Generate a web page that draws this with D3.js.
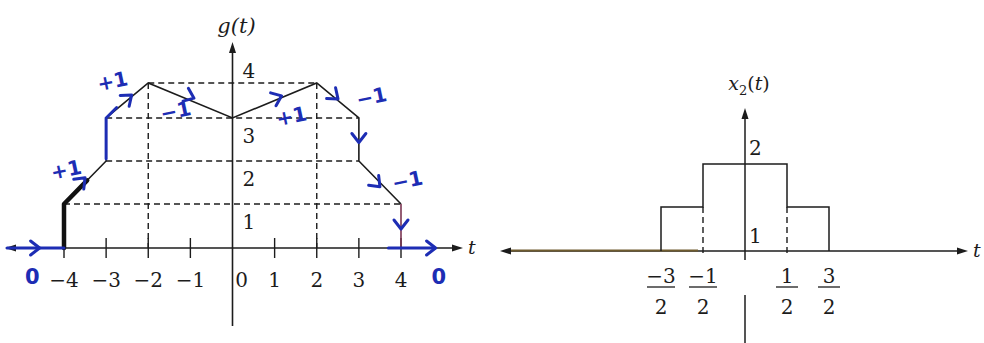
<!DOCTYPE html>
<html><head><meta charset="utf-8">
<script src="https://cdn.jsdelivr.net/npm/d3@7"></script>
<style>html,body{margin:0;padding:0;background:#fff;}svg{display:block;}</style>
</head><body>
<svg id="chart" width="984" height="343"></svg>
<script>
// ---- g(t): breakpoints of the piecewise-linear signal ----
const gT = [-4, -4, -3, -3, -2, 0, 2, 3, 3, 4, 4];
const gV = [0, 1, 2, 3, 4, 3, 4, 3, 2, 1, 0];
const gTicks = [-4, -3, -2, -1, 0, 1, 2, 3, 4];
const gTickLabels = ["\u22124", "\u22123", "\u22122", "\u22121", "0", "1", "2", "3", "4"];
const gLevels = [1, 2, 3, 4];
// dashed guides
const guideHFrom = [-4, -3, -3, -2];
const guideHTo = [4, 3, 3, 2];
const guideHLevel = [1, 2, 3, 4];
const guideVT = [-2, 2];
const guideVTop = [4, 4];

// pen notes on g(t): slope labels, direction chevrons, zero labels
const noteText = ["+1", "+1", "\u22121", "+1", "\u22121", "\u22121"];
const noteT = [-3.95, -2.85, -1.35, 1.4, 3.3, 4.15];
const noteG = [1.8, 4.05, 3.2, 3.05, 3.6, 1.55];
const arrowT = [-3.55, -2.45, -0.98, 1.1, 2.45, 3.45, 3, 4, -4.65, 4.75];
const arrowG = [1.56, 3.6, 3.6, 3.6, 3.6, 1.45, 2.5, 0.5, 0, 0];
const arrowSlope = [1, 1, -0.5, 0.5, -1, -1, null, null, 0, 0];
const zeroT = [-4.75, 4.9];
const zeroLabel = ["0", "0"];
const penAxisFrom = [-5.35, 3.7];
const penAxisTo = [-4, 4.8];

// ---- x2(t): staircase pulse ----
const x2T = [-1.5, -1.5, -0.5, -0.5, 0.5, 0.5, 1.5, 1.5];
const x2V = [0, 1, 1, 2, 2, 1, 1, 0];
const x2Ticks = [-1.5, -0.5, 0.5, 1.5];
const x2TickNum = ["\u22123", "\u22121", "1", "3"];
const x2TickDen = ["2", "2", "2", "2"];
const x2Dashed = [-0.5, 0.5];

const svg = d3.select("#chart");
svg.append("rect").attr("width", 984).attr("height", 343).attr("fill", "#fff");

const ink = "#1c1c1c";
const pen = "#1d2db4";
const serif = "'DejaVu Serif', 'Liberation Serif', serif";

function arrowHead(g, x, y, angleDeg, color) {
  g.append("path")
    .attr("d", "M0,0 L-11,-3.5 L-11,3.5 Z")
    .attr("fill", color)
    .attr("transform", `translate(${x},${y}) rotate(${angleDeg})`);
}

// ================= left chart =================
const xG = d3.scaleLinear().domain([-4, 4]).range([64, 401]);
const yG = d3.scaleLinear().domain([0, 1, 2, 3, 4]).range([248, 204, 161, 118, 83]);
const L = svg.append("g");

// guides
L.selectAll(".gh").data(guideHLevel).join("line")
  .attr("x1", (d, i) => xG(guideHFrom[i])).attr("x2", (d, i) => xG(guideHTo[i]))
  .attr("y1", d => yG(d)).attr("y2", d => yG(d))
  .attr("stroke", ink).attr("stroke-width", 1.4).attr("stroke-dasharray", "6,4");
L.selectAll(".gv").data(guideVT).join("line")
  .attr("x1", d => xG(d)).attr("x2", d => xG(d))
  .attr("y1", (d, i) => yG(guideVTop[i])).attr("y2", yG(0))
  .attr("stroke", ink).attr("stroke-width", 1.4).attr("stroke-dasharray", "6,4");

// axes
L.append("line").attr("x1", 8).attr("x2", 460).attr("y1", yG(0)).attr("y2", yG(0))
  .attr("stroke", ink).attr("stroke-width", 1.6);
arrowHead(L, 5, yG(0), 180, ink);
arrowHead(L, 463, yG(0), 0, ink);
L.append("text").attr("x", 468).attr("y", yG(0) + 6).attr("font-family", serif)
  .attr("font-style", "italic").attr("font-size", 19).attr("fill", ink).text("t");
L.append("line").attr("x1", xG(0)).attr("x2", xG(0)).attr("y1", 46).attr("y2", 326)
  .attr("stroke", ink).attr("stroke-width", 1.6);
arrowHead(L, xG(0), 42, -90, ink);
L.append("text").attr("x", xG(0) + 4).attr("y", 33).attr("text-anchor", "middle")
  .attr("font-family", serif).attr("font-style", "italic").attr("font-size", 21)
  .attr("fill", ink).text("g(t)");

// ticks and labels
L.selectAll(".tk").data(gTicks.filter(d => d !== 0)).join("line")
  .attr("x1", d => xG(d)).attr("x2", d => xG(d))
  .attr("y1", yG(0) - 10).attr("y2", yG(0) + 10)
  .attr("stroke", ink).attr("stroke-width", 1.4);
L.selectAll(".tl").data(gTicks).join("text")
  .attr("x", d => d === 0 ? xG(d) + 9 : xG(d))
  .attr("y", yG(0) + 39)
  .attr("text-anchor", "middle").attr("font-family", serif).attr("font-size", 20)
  .attr("fill", ink).text((d, i) => gTickLabels[i]);
L.selectAll(".lv").data(gLevels).join("text")
  .attr("x", xG(0) + 10)
  .attr("y", d => d === d3.max(gLevels) ? yG(d) - 5 : yG(d) + 25)
  .attr("font-family", serif).attr("font-size", 20).attr("fill", ink).text(d => d);

// the signal
const gLine = d3.line().x(d => xG(d[0])).y(d => yG(d[1]));
const gPts = gT.map((t, i) => [t, gV[i]]);
L.append("path").attr("d", gLine(gPts.slice(0, gPts.length - 1)))
  .attr("fill", "none").attr("stroke", ink).attr("stroke-width", 1.6);
L.append("path").attr("d", gLine(gPts.slice(gPts.length - 2)))
  .attr("fill", "none").attr("stroke", "#7a3552").attr("stroke-width", 1.6);

// pen overdraw on the left edge
L.append("path").attr("d", gLine([[-4, 0], [-4, 1], [-3.45, 1.55]]))
  .attr("fill", "none").attr("stroke", "#111").attr("stroke-width", 4.5)
  .attr("stroke-linecap", "round").attr("stroke-linejoin", "round");
L.append("path").attr("d", gLine([[-3, 2.05], [-3, 3], [-2.75, 3.3]]))
  .attr("fill", "none").attr("stroke", pen).attr("stroke-width", 3)
  .attr("stroke-linecap", "round");

// pen notes
const N = svg.append("g");
N.selectAll(".pa").data(penAxisFrom).join("line")
  .attr("x1", d => xG(d)).attr("x2", (d, i) => xG(penAxisTo[i]))
  .attr("y1", yG(0)).attr("y2", yG(0))
  .attr("stroke", pen).attr("stroke-width", 3).attr("stroke-linecap", "round");
N.selectAll(".nt").data(noteText).join("text")
  .attr("x", (d, i) => xG(noteT[i])).attr("y", (d, i) => yG(noteG[i]))
  .attr("text-anchor", "middle").attr("dominant-baseline", "central")
  .attr("font-family", "'DejaVu Sans', sans-serif").attr("font-size", 20)
  .attr("font-weight", "bold").attr("fill", pen)
  .attr("transform", (d, i) => `rotate(-12 ${xG(noteT[i])} ${yG(noteG[i])})`)
  .text(d => d);
N.selectAll(".ch").data(arrowT).join("path")
  .attr("d", "M-6,-7 L3,0 L-6,7")
  .attr("fill", "none").attr("stroke", pen).attr("stroke-width", 3)
  .attr("stroke-linecap", "round").attr("stroke-linejoin", "round")
  .attr("transform", (d, i) => {
    const s = arrowSlope[i];
    let ang;
    if (s === null) ang = 90;
    else {
      const dx = xG(d + 0.5) - xG(d - 0.5);
      const dy = yG(arrowG[i] + s * 0.5) - yG(arrowG[i] - s * 0.5);
      ang = Math.atan2(dy, dx) * 180 / Math.PI;
    }
    return `translate(${xG(d)},${yG(arrowG[i])}) rotate(${ang})`;
  });
N.selectAll(".zl").data(zeroT).join("text")
  .attr("x", d => xG(d)).attr("y", yG(0) + 36)
  .attr("text-anchor", "middle").attr("font-family", "'DejaVu Sans', sans-serif")
  .attr("font-size", 21).attr("font-weight", "bold").attr("fill", pen)
  .text((d, i) => zeroLabel[i]);

// ================= right chart =================
// the half-unit steps are drawn at their own spacing in this sketch
const xX = d3.scaleLinear().domain([-1.5, -0.5, 0.5, 1.5]).range([661, 703, 787, 829]);
const yX = d3.scaleLinear().domain([0, 1, 2]).range([251, 207, 164]);
const R = svg.append("g");

R.append("line").attr("x1", 503).attr("x2", 965).attr("y1", yX(0)).attr("y2", yX(0))
  .attr("stroke", ink).attr("stroke-width", 1.5);
R.append("line").attr("x1", 506).attr("x2", xX(-0.5) - 5).attr("y1", yX(0) - 0.5).attr("y2", yX(0) - 0.5)
  .attr("stroke", "#6e5b2e").attr("stroke-width", 1.8);
arrowHead(R, 500, yX(0), 180, ink);
arrowHead(R, 968, yX(0), 0, ink);
R.append("text").attr("x", 973).attr("y", yX(0) + 6).attr("font-family", serif)
  .attr("font-style", "italic").attr("font-size", 19).attr("fill", ink).text("t");

R.append("line").attr("x1", xX(0)).attr("x2", xX(0)).attr("y1", 112).attr("y2", yX(0) + 9)
  .attr("stroke", ink).attr("stroke-width", 1.5);
R.append("line").attr("x1", xX(0)).attr("x2", xX(0)).attr("y1", 295).attr("y2", 343)
  .attr("stroke", ink).attr("stroke-width", 1.5);
arrowHead(R, xX(0), 108, -90, ink);
const ttl = R.append("text").attr("x", xX(0) + 4).attr("y", 90).attr("text-anchor", "middle")
  .attr("font-family", serif).attr("font-size", 19).attr("fill", ink);
ttl.append("tspan").attr("font-style", "italic").text("x");
ttl.append("tspan").attr("font-size", 13).attr("dy", 5).text("2");
ttl.append("tspan").attr("dy", -5).text("(");
ttl.append("tspan").attr("font-style", "italic").text("t");
ttl.append("tspan").text(")");

R.selectAll(".dv").data(x2Dashed).join("line")
  .attr("x1", d => xX(d)).attr("x2", d => xX(d))
  .attr("y1", yX(1)).attr("y2", yX(0) + 5)
  .attr("stroke", ink).attr("stroke-width", 1.4).attr("stroke-dasharray", "6,4");

const xLine = d3.line().x(d => xX(d[0])).y(d => yX(d[1]));
R.append("path").attr("d", xLine(x2T.map((t, i) => [t, x2V[i]])))
  .attr("fill", "none").attr("stroke", ink).attr("stroke-width", 1.5);

R.append("text").attr("x", xX(0) + 4).attr("y", yX(2) - 9)
  .attr("font-family", serif).attr("font-size", 20).attr("fill", ink).text("2");
R.append("text").attr("x", xX(0) + 4).attr("y", yX(0) - 8)
  .attr("font-family", serif).attr("font-size", 20).attr("fill", ink).text("1");

const fr = R.selectAll(".fr").data(x2Ticks).join("g")
  .attr("transform", d => `translate(${xX(d)},0)`);
fr.append("text").attr("y", yX(0) + 32).attr("text-anchor", "middle")
  .attr("font-family", serif).attr("font-size", 20).attr("fill", ink)
  .text((d, i) => x2TickNum[i]);
fr.append("line").attr("x1", (d, i) => x2TickNum[i].length > 1 ? -14 : -11)
  .attr("x2", (d, i) => x2TickNum[i].length > 1 ? 14 : 11)
  .attr("y1", yX(0) + 36).attr("y2", yX(0) + 36)
  .attr("stroke", ink).attr("stroke-width", 1.3);
fr.append("text").attr("y", yX(0) + 63).attr("text-anchor", "middle")
  .attr("font-family", serif).attr("font-size", 20).attr("fill", ink)
  .text((d, i) => x2TickDen[i]);
</script>
</body></html>
